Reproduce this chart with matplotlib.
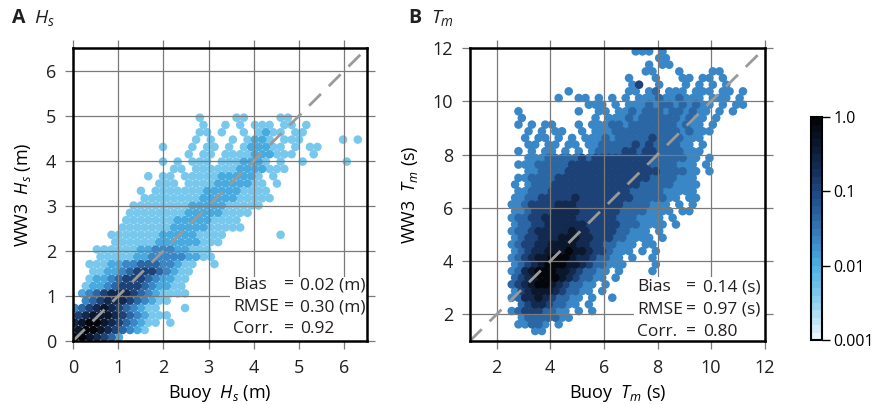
import matplotlib
matplotlib.use("Agg")

import matplotlib.pyplot as plt
import numpy as np
from matplotlib.colors import LinearSegmentedColormap, LogNorm
from matplotlib.patches import Rectangle
from matplotlib.cm import ScalarMappable

plt.rcParams["font.family"] = ["Open Sans", "DejaVu Sans"]
plt.rcParams["mathtext.fontset"] = "custom"
plt.rcParams["mathtext.rm"] = "Open Sans"
plt.rcParams["mathtext.it"] = "Open Sans:italic"
plt.rcParams["font.size"] = 12
plt.rcParams["text.color"] = "#231f20"

# Density maps. Each entry: (row, first column, cells);
# a cell digit k means normalised density 10**(-3 + k/3), "." = no points.
# Odd rows sit half a cell to the right (hexagonal bins).
# Hs panel: cells of 6.5/40 m starting at (0, 0)
hs_step = 6.5 / 40
hs_origin = (0.0, 0.0)
hs_rows = [
    (30, 17, "2....22....22"),
    (29, 17, "2..2.2.222.22.2"),
    (28, 17, "22.2..2.2322.22"),
    (27, 16, "2.2..2.2332.222.....2.2"),
    (26, 12, "2...2.22.2.233322.2.22"),
    (25, 15, "2.22.2222333222..2"),
    (24, 12, "2.2.222.2223332.2..2.....2"),
    (23, 13, "22.2222223333222"),
    (22, 10, "2.22.22222333332.2"),
    (21, 11, "222.22223333322.2"),
    (20, 9, "2.2222222333332222"),
    (19, 9, "222222223333322222"),
    (18, 8, "222222223333322222"),
    (17, 7, "22222222333332222"),
    (16, 7, "2222222333332222"),
    (15, 6, "22222223333322222"),
    (14, 5, "2222222333332222.......2"),
    (13, 5, "222222333333222"),
    (12, 3, "2222223344433222"),
    (11, 3, "2222233444443322"),
    (10, 2, "222334455544322..2"),
    (9, 2, "22334566654322"),
    (8, 2, "23345666543322"),
    (7, 1, "23345666543322"),
    (6, 1, "345677765432222"),
    (5, 1, "456777654322"),
    (4, 0, "456787654322...2"),
    (3, 0, "6788876543222"),
    (2, 0, "789987654322.2"),
    (1, 0, "8998765432"),
    (0, 0, "9987653"),
]

# Tm panel: cells of 0.25 s starting at (2, 1)
tm_step = 0.25
tm_origin = (2.0, 1.0)
tm_rows = [
    (43, 20, "444.4"),
    (42, 24, "44"),
    (41, 22, "4.44"),
    (40, 22, "44...4....44"),
    (39, 19, "4...4...44.44.4"),
    (38, 20, "46..4...4.4.4.4"),
    (37, 10, "4........44.45.444.444.44.4"),
    (36, 9, "4..44.4.4.4.4445445444.444.4"),
    (35, 13, "444.4.4445455454544.4.44"),
    (34, 3, "4........4..44.44545554554544.4.4"),
    (33, 3, "4..........4.444545555554544.4"),
    (32, 3, "4.4.44...4.44" "45545555555454" "4.4"),
    (31, 4, "4.4.44..4.44" "45555555555454" "44"),
    (30, 4, "4.44.4.4.444" "54555556555544" "4"),
    (29, 4, "44.44.44.445" "5555656555544" ".4"),
    (28, 3, "4.4.44.4.4.45" "5556656655554" "44"),
    (27, 4, "444" "5555565666666666555554" "4.4"),
    (26, 3, "44" "455555666666666666555544" "4.4"),
    (25, 4, "4" "4555566666666666666555544" ".4"),
    (24, 3, "44" "555566666666666666555544" "4"),
    (23, 2, "4." "4555666666666666655555444" "4"),
    (22, 3, "4" "455566666666666655555444" "44"),
    (21, 2, "4" "455666667666666665555544" ".44"),
    (20, 2, "4" "45666677766666665555444" ".4.4"),
    (19, 2, "4" "4566677776666665555444" "4.44"),
    (18, 2, "4" "556677777666666555444" "4.4"),
    (17, 2, "4" "55667777776666655544" "44.4"),
    (16, 2, "4" "5567777787766665544" "4.4"),
    (15, 2, "4" "566777888776665544" "44.4"),
    (14, 2, "4" "56677888877665544" "4.44"),
    (13, 2, "4" "567788898876654" "44.4.4"),
    (12, 2, "4" "56788999877655" "44.4..4"),
    (11, 2, "4" "5678999887655" "444....4"),
    (10, 2, "4" "578999887655" "44.4....4"),
    (9, 2, "5" "67899987655" "44.4"),
    (8, 2, "5" "6789987655" "44.4"),
    (7, 2, "4" "678887655" "44.4"),
    (6, 2, "4" "57787655" "44.4..4"),
    (5, 3, "5" "677655" "44.4"),
    (4, 2, "4" "566655" "44.4.4"),
    (3, 3, "4" "55555" "44"),
    (2, 3, "44554.4"),
    (1, 5, "44"),
]

stat_names = ["Bias", "RMSE", "Corr."]
hs_stats = ["0.02 (m)", "0.30 (m)", "0.92"]
tm_stats = ["0.14 (s)", "0.97 (s)", "0.80"]

hs_ticks = [0, 1, 2, 3, 4, 5, 6]
tm_ticks = [2, 4, 6, 8, 10, 12]
cbar_ticks = [0.001, 0.01, 0.1, 1.0]
cbar_labels = ["0.001", "0.01", "0.1", "1.0"]

band_colors = ["#e8f5fb", "#a8dcf3", "#70c5ec", "#4aaee2", "#3a88c8",
               "#2a66a4", "#1e4880", "#142d55", "#0b182e", "#04060b"]
cmap = LinearSegmentedColormap.from_list("dens", band_colors, N=30)
norm = LogNorm(1e-3, 1)


def grid_points(rows, step, origin):
    xs, ys, dens = [], [], []
    for r, c0, cells in rows:
        shift = 0.5 * (r % 2)
        for i, ch in enumerate(cells):
            if ch == ".":
                continue
            xs.append(origin[0] + (c0 + i + 0.25 + shift) * step)
            ys.append(origin[1] + (r + 0.5) * step)
            dens.append(10 ** (-3 + int(ch) / 3))
    xs, ys, dens = np.array(xs), np.array(ys), np.array(dens)
    order = np.argsort(dens, kind="stable")
    return xs[order], ys[order], dens[order]


fig = plt.figure(figsize=(8.75, 4.04), dpi=100)


def panel(rect, rows, step, origin, lim, ticks, var, unit, stats, tx, letter):
    ax = fig.add_axes(rect)
    x, y, d = grid_points(rows, step, origin)
    ax.scatter(x, y, c=d, cmap=cmap, norm=norm, s=38, linewidths=0, zorder=1)
    ax.plot(lim, lim, color="#9a9a9a", lw=2, dashes=(6, 4), zorder=4)
    ax.set_xlim(lim)
    ax.set_ylim(lim)
    ax.set_xticks(ticks)
    ax.set_yticks(ticks)
    ax.set_axisbelow(False)
    ax.grid(True, color="#7a7a7a", lw=0.9)
    ax.tick_params(direction="out", length=6, width=0.9, color="#7a7a7a",
                   top=True, right=True, labelsize=13, labelcolor="#231f20")
    ax.tick_params(axis="x", pad=7)
    ax.tick_params(axis="y", pad=6)
    for s in ax.spines.values():
        s.set_linewidth(1.8)
        s.set_zorder(5)
    ax.set_xlabel("Buoy  $%s$ (%s)" % (var, unit), fontsize=13, labelpad=4)
    ax.set_ylabel("WW3  $%s$ (%s)" % (var, unit), fontsize=13, labelpad=9)

    # white box behind the statistics
    ax.add_patch(Rectangle((tx[0] - 0.01, 0), 1.01 - tx[0], 0.22,
                           transform=ax.transAxes, fc="white", ec="none",
                           zorder=3))
    for name, val, yy in zip(stat_names, stats, tx[3]):
        ax.text(tx[0], yy, name, transform=ax.transAxes, va="center",
                ha="left", fontsize=12.5, zorder=6)
        ax.text(tx[1], yy, "=", transform=ax.transAxes, va="center",
                ha="center", fontsize=12.5, zorder=6)
        ax.text(tx[2], yy, val, transform=ax.transAxes, va="center",
                ha="left", fontsize=12.5, zorder=6)

    fig.text(rect[0] - 0.07, 0.955, letter, fontsize=14, fontweight="bold",
             va="center", ha="left")
    fig.text(rect[0] - 0.045, 0.955, "$%s$" % var, fontsize=14,
             va="center", ha="left")
    return ax


panel([0.0834, 0.156, 0.336, 0.725], hs_rows, hs_step, hs_origin,
      (0, 6.5), hs_ticks, "H_s", "m", hs_stats,
      (0.545, 0.735, 0.772, [0.19, 0.115, 0.04]), "A")
panel([0.537, 0.156, 0.337, 0.725], tm_rows, tm_step, tm_origin,
      (1, 12), tm_ticks, "T_m", "s", tm_stats,
      (0.566, 0.749, 0.79, [0.184, 0.106, 0.031]), "B")

cax = fig.add_axes([0.927, 0.158, 0.0126, 0.552])
cb = fig.colorbar(ScalarMappable(norm=norm, cmap=cmap), cax=cax)
cb.set_ticks(cbar_ticks)
cb.set_ticklabels(cbar_labels)
cb.ax.minorticks_off()
cb.outline.set_linewidth(1.5)
cb.ax.tick_params(length=6, width=1, labelsize=11.5, pad=2)

fig.savefig("out.png", dpi=100)
